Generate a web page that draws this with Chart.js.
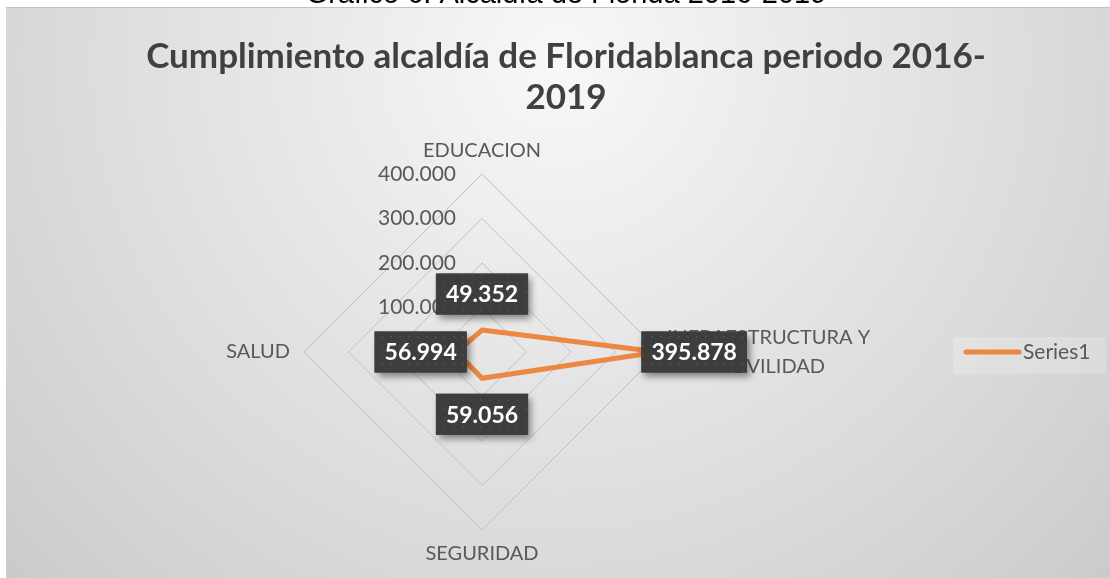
<!DOCTYPE html>
<html><head><meta charset="utf-8">
<script src="https://cdn.jsdelivr.net/npm/chart.js@4/dist/chart.umd.min.js"></script>
<style>html,body{margin:0;padding:0;background:#fff;overflow:hidden}#wrap{width:1110px;height:578px;position:relative}</style>
</head><body><div id="wrap"><canvas id="c" width="1110" height="578"></canvas></div>
<script>
const categories = ['EDUCACION', ['INFRAESTRUCTURA Y', 'MOVILIDAD'], 'SEGURIDAD', 'SALUD'];
const seriesName = 'Series1';
const seriesValues = [49.352, 395.878, 59.056, 56.994];
const valueLabels = ['49.352', '395.878', '59.056', '56.994'];
const tickValues = [0, 100, 200, 300, 400];
const tickLabels = ['0.000', '100.000', '200.000', '300.000', '400.000'];
const titleLines = ['Cumplimiento alcaldía de Floridablanca periodo 2016-', '2019'];
const captionText = 'Gráfico 6. Alcaldía de Florida 2016-2019';

const FONT = 'Lato, "Open Sans", sans-serif';
const TEXT = '#595959';
const ORANGE = 'rgba(237,125,49,0.9)';

function makePattern(ctx) {
  const pc = document.createElement('canvas');
  pc.width = 9; pc.height = 9;
  const p = pc.getContext('2d');
  p.fillStyle = '#3d3d3d'; p.fillRect(0, 0, 9, 9);
  p.fillStyle = '#4a4a4a'; p.fillRect(3, 3, 2, 2);
  return ctx.createPattern(pc, 'repeat');
}

const decor = {
  id: 'decor',
  beforeDraw(chart) {
    const ctx = chart.ctx;
    ctx.save();
    ctx.fillStyle = '#ffffff';
    ctx.fillRect(0, 0, chart.width, chart.height);
    // caption (cut off at top)
    ctx.fillStyle = '#000';
    ctx.font = '29px "Liberation Sans", Arial, sans-serif';
    ctx.textAlign = 'center';
    ctx.textBaseline = 'alphabetic';
    ctx.fillText(captionText, 566, 3);
    // background gradient
    const g = ctx.createRadialGradient(560, 60, 0, 560, 60, 750);
    g.addColorStop(0, '#f8f8f8');
    g.addColorStop(0.27, '#ececec');
    g.addColorStop(0.68, '#dadada');
    g.addColorStop(0.9, '#d0d0d0');
    g.addColorStop(1, '#cbcbcb');
    ctx.fillStyle = g;
    ctx.fillRect(6, 7, chart.width - 6, chart.height - 7);
    ctx.strokeStyle = '#c2c2c2';
    ctx.lineWidth = 1;
    ctx.beginPath(); ctx.moveTo(6, 7.5); ctx.lineTo(chart.width, 7.5); ctx.stroke();
    // title
    ctx.fillStyle = '#404040';
    ctx.font = 'bold 35px ' + FONT;
    ctx.textBaseline = 'middle';
    titleLines.forEach((t, i) => ctx.fillText(t, 566, 57 + i * 41));
    ctx.restore();
  },
  beforeDatasetsDraw(chart) {
    const ctx = chart.ctx;
    const s = chart.scales.r;
    ctx.save();
    ctx.fillStyle = TEXT;
    ctx.font = '21px ' + FONT;
    // tick labels left of top axis
    ctx.textAlign = 'right';
    ctx.textBaseline = 'middle';
    tickValues.forEach((v, i) => {
      const d = s.getDistanceFromCenterForValue(v);
      ctx.fillText(tickLabels[i], s.xCenter - 26, s.yCenter - d);
    });
    // point labels
    ctx.font = '20px ' + FONT;
    const lh = 29;
    chart.data.labels.forEach((lab, i) => {
      const lines = Array.isArray(lab) ? lab : [lab];
      const p = s.getPointPosition(i, s.drawingArea);
      const ang = s.getIndexAngle(i) - Math.PI / 2;
      const c = Math.cos(ang), sn = Math.sin(ang);
      const widths = lines.map(l => ctx.measureText(l).width);
      const bw = Math.max(...widths);
      const bh = lines.length * lh;
      let cx, cy;
      if (Math.abs(c) < 0.1) {
        cx = p.x;
        cy = sn < 0 ? p.y - 9 - bh / 2 : p.y + 9 + bh / 2;
      } else if (c > 0) {
        cx = p.x + 7 + bw / 2; cy = p.y;
      } else {
        cx = p.x - 14 - bw / 2; cy = p.y;
      }
      ctx.textAlign = 'center';
      lines.forEach((l, k) => ctx.fillText(l, cx, cy - bh / 2 + lh / 2 + k * lh));
    });
    ctx.restore();
  },
  afterDatasetsDraw(chart) {
    const ctx = chart.ctx;
    const s = chart.scales.r;
    const meta = chart.getDatasetMeta(0);
    const pat = makePattern(ctx);
    ctx.save();
    ctx.font = 'bold 23px ' + FONT;
    meta.data.forEach((el, i) => {
      const ang = s.getIndexAngle(i) - Math.PI / 2;
      const cx = el.x + Math.cos(ang) * 36;
      const cy = el.y + Math.sin(ang) * 36;
      const txt = valueLabels[i];
      const w = ctx.measureText(txt).width + 20;
      const h = 41;
      ctx.save();
      ctx.shadowColor = 'rgba(0,0,0,0.45)';
      ctx.shadowBlur = 7;
      ctx.shadowOffsetX = 3;
      ctx.shadowOffsetY = 4;
      ctx.fillStyle = '#3d3d3d';
      ctx.fillRect(cx - w / 2, cy - h / 2, w, h);
      ctx.restore();
      ctx.fillStyle = pat;
      ctx.fillRect(cx - w / 2, cy - h / 2, w, h);
      ctx.fillStyle = '#ffffff';
      ctx.textAlign = 'center';
      ctx.textBaseline = 'middle';
      ctx.fillText(txt, cx, cy + 1);
    });
    // legend
    const ds = chart.data.datasets[0];
    ctx.fillStyle = 'rgba(255,255,255,0.2)';
    ctx.fillRect(953, 337, 153, 37);
    ctx.strokeStyle = ds.borderColor;
    ctx.lineWidth = 5;
    ctx.lineCap = 'round';
    ctx.beginPath(); ctx.moveTo(966, s.yCenter); ctx.lineTo(1019, s.yCenter); ctx.stroke();
    ctx.fillStyle = TEXT;
    ctx.font = '21px ' + FONT;
    ctx.textAlign = 'left';
    ctx.textBaseline = 'middle';
    ctx.fillText(ds.label, 1023, s.yCenter);
    ctx.restore();
  }
};

new Chart(document.getElementById('c'), {
  type: 'radar',
  data: {
    labels: categories,
    datasets: [{
      label: seriesName,
      data: seriesValues,
      borderColor: ORANGE,
      backgroundColor: 'transparent',
      borderWidth: 5,
      fill: false,
      pointRadius: 0,
      pointHoverRadius: 0,
      tension: 0
    }]
  },
  options: {
    responsive: false,
    devicePixelRatio: 1,
    animation: false,
    layout: { padding: { left: 304, right: 450, top: 174, bottom: 48 } },
    plugins: { legend: { display: false }, title: { display: false }, tooltip: { enabled: false } },
    scales: {
      r: {
        min: 0, max: 400,
        ticks: { display: false, stepSize: 100 },
        pointLabels: { display: false },
        angleLines: { display: false },
        grid: { color: '#c0c0c0', lineWidth: 1, circular: false }
      }
    }
  },
  plugins: [decor]
});
</script>
</body></html>
